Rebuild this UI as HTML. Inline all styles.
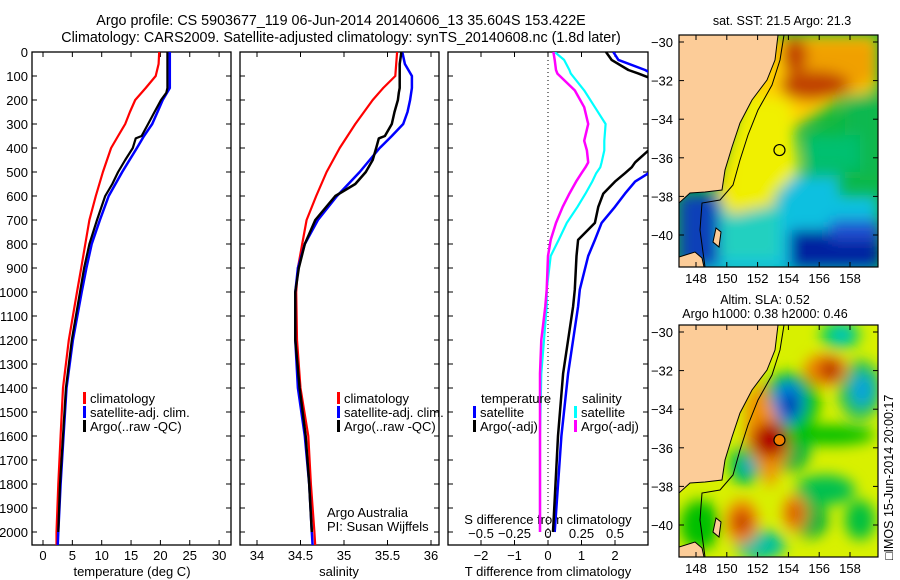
<!DOCTYPE html>
<html><head><meta charset="utf-8"><style>
body{margin:0;background:#fff}
svg{display:block;font-family:"Liberation Sans",sans-serif}
text{fill:#000}
</style></head><body>
<svg id="s" width="900" height="580" viewBox="0 0 900 580">
<defs>
<filter id="bl" x="-20%" y="-20%" width="140%" height="140%"><feGaussianBlur stdDeviation="7"/></filter>
<clipPath id="c1"><rect x="32" y="52" width="199" height="493"/></clipPath>
<clipPath id="c2"><rect x="240" y="52" width="199" height="493"/></clipPath>
<clipPath id="c3"><rect x="448" y="52" width="200" height="493"/></clipPath>
<clipPath id="cm"><rect x="679" y="35" width="199" height="232"/></clipPath>
</defs>
<text x="341" y="25" font-size="14.3" text-anchor="middle">Argo profile: CS 5903677_119 06-Jun-2014 20140606_13 35.604S 153.422E</text>
<text x="341" y="42" font-size="14.3" text-anchor="middle">Climatology: CARS2009. Satellite-adjusted climatology: synTS_20140608.nc (1.8d later)</text>
<g id="frames"></g>
<g id="ticks"></g>
<g id="series"></g>

<g id="map1">
<g clip-path="url(#cm)">
<rect x="679" y="35" width="199" height="232" fill="#10b840"/>
<g filter="url(#bl)">
<rect x="679" y="195" width="199" height="80" fill="#10c0e0"/>
<rect x="720" y="200" width="60" height="60" fill="#20d0c0"/>
<rect x="790" y="230" width="90" height="40" fill="#0020a0"/>
<rect x="830" y="220" width="50" height="20" fill="#2050d0"/>
<rect x="679" y="195" width="40" height="72" fill="#1040b8"/>
<rect x="780" y="175" width="60" height="35" fill="#10c0e0"/>
<path d="M770 35 L878 35 L878 90 L840 100 L800 125 L770 150 L775 205 L730 215 L715 190 L740 100 Z" fill="#ffd000"/>
<path d="M745 95 L790 100 L800 170 L765 205 L725 210 L730 150 Z" fill="#f0f000"/>
<path d="M780 40 L875 40 L875 80 L840 95 L810 105 L785 100 Z" fill="#f0a000"/>
<ellipse cx="815" cy="85" rx="35" ry="14" fill="#c04000"/>
<ellipse cx="795" cy="55" rx="12" ry="18" fill="#c04000"/>
<rect x="845" y="95" width="35" height="85" fill="#10b850"/>
<rect x="805" y="135" width="55" height="35" fill="#00c070"/>
</g>
</g>
</g>
<g id="map2">
<g clip-path="url(#cm)" transform="translate(0,290)">
<rect x="679" y="35" width="199" height="232" fill="#d8f000"/>
<g filter="url(#bl)">
<ellipse cx="790" cy="160" rx="20" ry="22" fill="#00b040"/>
<ellipse cx="790" cy="112" rx="30" ry="30" fill="#00c000"/>
<ellipse cx="788" cy="112" rx="16" ry="22" fill="#0080e0"/>
<ellipse cx="790" cy="115" rx="7" ry="12" fill="#0020a0"/>
<ellipse cx="860" cy="100" rx="22" ry="30" fill="#20c060"/>
<ellipse cx="862" cy="100" rx="10" ry="16" fill="#00a0e0"/>
<ellipse cx="840" cy="45" rx="20" ry="14" fill="#00d060"/>
<ellipse cx="842" cy="45" rx="8" ry="8" fill="#00c0d0"/>
<ellipse cx="745" cy="175" rx="16" ry="20" fill="#00c040"/>
<ellipse cx="748" cy="177" rx="7" ry="9" fill="#00a0d0"/>
<ellipse cx="830" cy="145" rx="45" ry="10" fill="#00c000"/>
<ellipse cx="825" cy="200" rx="30" ry="15" fill="#00c050"/>
<ellipse cx="760" cy="255" rx="25" ry="15" fill="#00c0a0"/>
<ellipse cx="700" cy="235" rx="20" ry="25" fill="#00c000"/>
<ellipse cx="810" cy="230" rx="18" ry="18" fill="#00b040"/>
<ellipse cx="860" cy="230" rx="15" ry="20" fill="#00c040"/>
<path d="M762 90 L778 130 L790 160 L770 200 L745 150 L745 110 Z" fill="#f09000"/>
<ellipse cx="770" cy="150" rx="18" ry="18" fill="#b00000"/>
<ellipse cx="826" cy="80" rx="22" ry="16" fill="#f08000"/>
<ellipse cx="830" cy="80" rx="10" ry="10" fill="#b02000"/>
<ellipse cx="742" cy="232" rx="16" ry="22" fill="#f08000"/>
<ellipse cx="742" cy="232" rx="7" ry="10" fill="#b00000"/>
<ellipse cx="795" cy="223" rx="12" ry="18" fill="#f08000"/>
<ellipse cx="795" cy="223" rx="5" ry="8" fill="#c03000"/>
</g>
</g>
</g>
<g id="lands"></g>
<text x="782" y="25" font-size="12.5" text-anchor="middle">sat. SST: 21.5 Argo: 21.3</text>
<text x="765" y="304" font-size="12.5" text-anchor="middle">Altim. SLA: 0.52</text>
<text x="765" y="318" font-size="12.5" text-anchor="middle">Argo h1000: 0.38 h2000: 0.46</text>
<text transform="translate(893,560) rotate(-90)" font-size="12.5">□IMOS 15-Jun-2014 20:00:17</text>
</svg>
<script>
const depthT=[0,50,100,150,200,250,300,350,400,500,600,700,800,900,1000,1200,1400,1600,1800,2000,2060];
const tempClim=[19.8,19.7,19.2,17.5,15.7,14.8,14.0,12.8,11.6,10.2,9.0,7.9,7.2,6.5,5.8,4.4,3.4,3.0,2.6,2.3,2.3];
const tempSat=[21.6,21.6,21.6,21.6,20.4,19.5,18.6,17.2,16.0,13.5,11.2,9.7,8.3,7.4,6.6,5.1,4.0,3.5,3.0,2.6,2.5];
const depthArgo=[0,50,100,150,170,200,250,300,350,360,400,450,500,550,600,700,800,900,1000,1200,1400,1600,1800,2000];
const tempArgo=[21.2,21.2,21.2,21.2,21.0,20.1,19.0,17.9,16.8,15.8,15.3,14.0,12.8,11.8,10.6,9.2,7.9,7.0,6.3,4.9,3.9,3.4,2.9,2.6];
const salClim=[35.61,35.60,35.59,35.45,35.33,35.23,35.13,35.04,34.95,34.80,34.68,34.57,34.52,34.47,34.45,34.46,34.50,34.59,34.62,34.66,34.67];
const salSat=[35.67,35.70,35.78,35.78,35.76,35.73,35.68,35.55,35.41,35.18,34.92,34.70,34.55,34.47,34.44,34.44,34.47,34.55,34.60,34.63,34.64];
const salArgo=[35.66,35.64,35.64,35.64,35.63,35.62,35.58,35.55,35.47,35.40,35.37,35.33,35.25,35.13,34.90,34.67,34.55,34.48,34.44,34.44,34.49,34.56,34.60,34.63];
const depthD=[0,33,75,90,160,230,300,370,410,460,480,505,540,590,645,712,783,850,990,1060,1200,1340,1600,2000];
const dTSat=[1.95,2.1,2.9,3.1,4,4,4,4,4,3.6,3.4,3.0,2.6,2.3,2.0,1.6,1.4,1.2,0.95,0.9,0.75,0.6,0.4,0.2];
const dTArgo=[1.73,1.9,2.4,2.7,4,4,4,3.5,3.0,2.6,2.5,2.3,2.0,1.65,1.5,1.4,0.9,0.85,0.8,0.75,0.6,0.45,0.3,0.15];
const dSSat=[0.05,0.12,0.16,0.17,0.27,0.35,0.43,0.42,0.42,0.40,0.39,0.36,0.33,0.28,0.22,0.14,0.08,0.02,-0.01,-0.01,-0.03,-0.05,-0.06,-0.06];
const dSArgo=[0.04,0.05,0.06,0.07,0.2,0.27,0.3,0.27,0.29,0.3,0.28,0.25,0.21,0.16,0.11,0.06,0.02,0.0,-0.01,-0.02,-0.05,-0.06,-0.06,-0.06];
const depthTicks=[0,100,200,300,400,500,600,700,800,900,1000,1100,1200,1300,1400,1500,1600,1700,1800,1900,2000];
const tTicks=[0,5,10,15,20,25,30];
const sTicks=[34,34.5,35,35.5,36];
const sTickLabels=["34","34.5","35","35.5","36"];
const dTTicks=[-2,-1,0,1,2];
const dTTickLabels=["\u22122","\u22121","0","1","2"];
const dSTicks=[-0.5,-0.25,0,0.25,0.5];
const dSTickLabels=["\u22120.5","\u22120.25","0","0.25","0.5"];
const latTicks=[-30,-32,-34,-36,-38,-40];
const lonTicks=[148,150,152,154,156,158];

const NS='http://www.w3.org/2000/svg';
const S=document.getElementById('s');
function mk(tag,attrs,parent,txt){const e=document.createElementNS(NS,tag);for(const k in attrs)e.setAttribute(k,attrs[k]);if(txt!==undefined)e.textContent=txt;(parent||S).appendChild(e);return e;}
const Y=d=>52+d*0.24;
const XT=t=>43+t*5.87;
const XS=s=>257+(s-34)*87;
const XDT=t=>548+t*33.5;
const XDS=s=>548+s*134;
const LON=l=>696+(l-148)*15.4;
const LAT=l=>42+(-30-l)*19.3;
const G=document.getElementById('series'), TK=document.getElementById('ticks'), FR=document.getElementById('frames');

const panels=[[32,'temperature-panel'],[240,'salinity-panel'],[448,'difference-panel']];
panels.forEach(p=>{const r=mk('rect',{x:p[0],y:52,width:p[0]==448?200:199,height:493,fill:'none',stroke:'#000','stroke-width':1.3},FR);

});

depthTicks.forEach(d=>{const t=mk('text',{x:28,y:Y(d)+5,'font-size':13,'text-anchor':'end'},TK,String(d));


[32,240,448].forEach(x0=>{mk('line',{x1:x0,x2:x0+5,y1:Y(d),y2:Y(d),stroke:'#000'},TK);});
[231,439,648].forEach(x0=>{mk('line',{x1:x0,x2:x0-5,y1:Y(d),y2:Y(d),stroke:'#000'},TK);});});
function xticks(vals,labels,f,ylab){vals.forEach((v,i)=>{const x=f(v);mk('line',{x1:x,x2:x,y1:545,y2:540,stroke:'#000'},TK);mk('line',{x1:x,x2:x,y1:52,y2:57,stroke:'#000'},TK);
const t=mk('text',{x:x,y:ylab,'font-size':13,'text-anchor':'middle'},TK,labels[i]);

});}
xticks(tTicks,tTicks.map(String),XT,560);
xticks(sTicks,sTickLabels,XS,560);
xticks(dTTicks,dTTickLabels,XDT,560);
dSTicks.forEach((v,i)=>{const t=mk('text',{x:XDS(v),y:538,'font-size':13,'text-anchor':'middle'},TK,dSTickLabels[i]);

});
[['temperature (deg C)',132,'temperature-axis-title'],['salinity',339,'salinity-axis-title'],['T difference from climatology',548,'t-diff-axis-title']].forEach(a=>{const t=mk('text',{x:a[1],y:576,'font-size':13,'text-anchor':'middle'},TK,a[0]);

});
const st=mk('text',{x:548,y:524,'font-size':13,'text-anchor':'middle'},TK,'S difference from climatology');


mk('line',{x1:548,x2:548,y1:52,y2:545,stroke:'#000','stroke-dasharray':'1,3'},TK);

function line(ds,vs,fx,color,w,clip,name){const pts=ds.map((d,i)=>fx(vs[i]).toFixed(1)+','+Y(d).toFixed(1)).join(' ');
const e=mk('polyline',{points:pts,fill:'none',stroke:color,'stroke-width':w,'clip-path':'url(#'+clip+')','stroke-linejoin':'round'},G);

}
line(depthT,tempClim,XT,'#f00',2.2,'c1','temp-climatology-line');
line(depthT,tempSat,XT,'#00f',2.5,'c1','temp-satellite-line');
line(depthArgo,tempArgo,XT,'#000',2.2,'c1','temp-argo-line');
line(depthT,salClim,XS,'#f00',2.2,'c2','sal-climatology-line');
line(depthT,salSat,XS,'#00f',2.5,'c2','sal-satellite-line');
line(depthArgo,salArgo,XS,'#000',2.5,'c2','sal-argo-line');
line(depthD,dSSat,XDS,'#0ff',2.2,'c3','s-diff-satellite-line');
line(depthD,dSArgo,XDS,'#f0f',2.5,'c3','s-diff-argo-line');
line(depthD,dTSat,XDT,'#00f',2.5,'c3','t-diff-satellite-line');
line(depthD,dTArgo,XDT,'#000',2.5,'c3','t-diff-argo-line');

function leg(x,y,color,label,name){mk('rect',{x:x,y:y-11,width:3,height:12,fill:color},G);
const t=mk('text',{x:x+7,y:y,'font-size':13},G,label);

}
leg(83,403,'#f00','climatology','legend-climatology');
leg(83,417,'#00f','satellite-adj. clim.','legend-satellite');
leg(83,431,'#000','Argo(..raw -QC)','legend-argo');
leg(337,403,'#f00','climatology','legend-climatology-2');
leg(337,417,'#00f','satellite-adj. clim.','legend-satellite-2');
leg(337,431,'#000','Argo(..raw -QC)','legend-argo-2');
const lt=mk('text',{x:481,y:403,'font-size':13},G,'temperature');
const ls=mk('text',{x:582,y:403,'font-size':13},G,'salinity');
leg(473,417,'#00f','satellite','legend-t-satellite');
leg(473,431,'#000','Argo(-adj)','legend-t-argo');
leg(574,417,'#0ff','satellite','legend-s-satellite');
leg(574,431,'#f0f','Argo(-adj)','legend-s-argo');
const a1=mk('text',{x:327,y:517,'font-size':13},G,'Argo Australia');
const a2=mk('text',{x:327,y:531,'font-size':13},G,'PI: Susan Wijffels');

const L=document.getElementById('lands');
[0,290].forEach((dy,k)=>{const g=mk('g',{transform:'translate(0,'+dy+')','clip-path':'url(#cm)'},L);
mk('path',{d:'M679 35 L778 35 L775 60 L767 80 L752 100 L740 123 L732 147 L725 170 L722 190 L705 192 L690 193 L679 203 Z',fill:'#fccc98',stroke:'#000','stroke-width':1},g);
mk('path',{d:'M679 257 L695 252 L702 258 L704 267 L679 267 Z',fill:'#fccc98',stroke:'#000','stroke-width':1},g);
mk('path',{d:'M716 228 L721 232 L719 247 L713 242 Z',fill:'#fccc98',stroke:'#000'},g);
mk('path',{d:'M784 35 L780 60 L772 85 L758 110 L748 135 L740 160 L733 185 L720 200 L702 203 L700 230 L705 267',fill:'none',stroke:'#000','stroke-width':1},g);
mk('circle',{cx:LON(153.42),cy:LAT(-35.6),r:5.5,fill:k?'#f08000':'none',stroke:'#000','stroke-width':1.2},g);
const fr=mk('rect',{x:679,y:35+dy,width:199,height:232,fill:'none',stroke:'#000','stroke-width':1.2},L);


latTicks.forEach(v=>{const y=LAT(v)+dy;mk('line',{x1:679,x2:684,y1:y,y2:y,stroke:'#000'},L);mk('line',{x1:878,x2:873,y1:y,y2:y,stroke:'#000'},L);
const t=mk('text',{x:673,y:y+5,'font-size':13,'text-anchor':'end'},L,'\u2212'+String(-v));

});
lonTicks.forEach(v=>{const x=LON(v);mk('line',{x1:x,x2:x,y1:267+dy,y2:262+dy,stroke:'#000'},L);mk('line',{x1:x,x2:x,y1:35+dy,y2:40+dy,stroke:'#000'},L);
const t=mk('text',{x:x,y:283+dy,'font-size':13,'text-anchor':'middle'},L,String(v));

});});
</script>
</body></html>
